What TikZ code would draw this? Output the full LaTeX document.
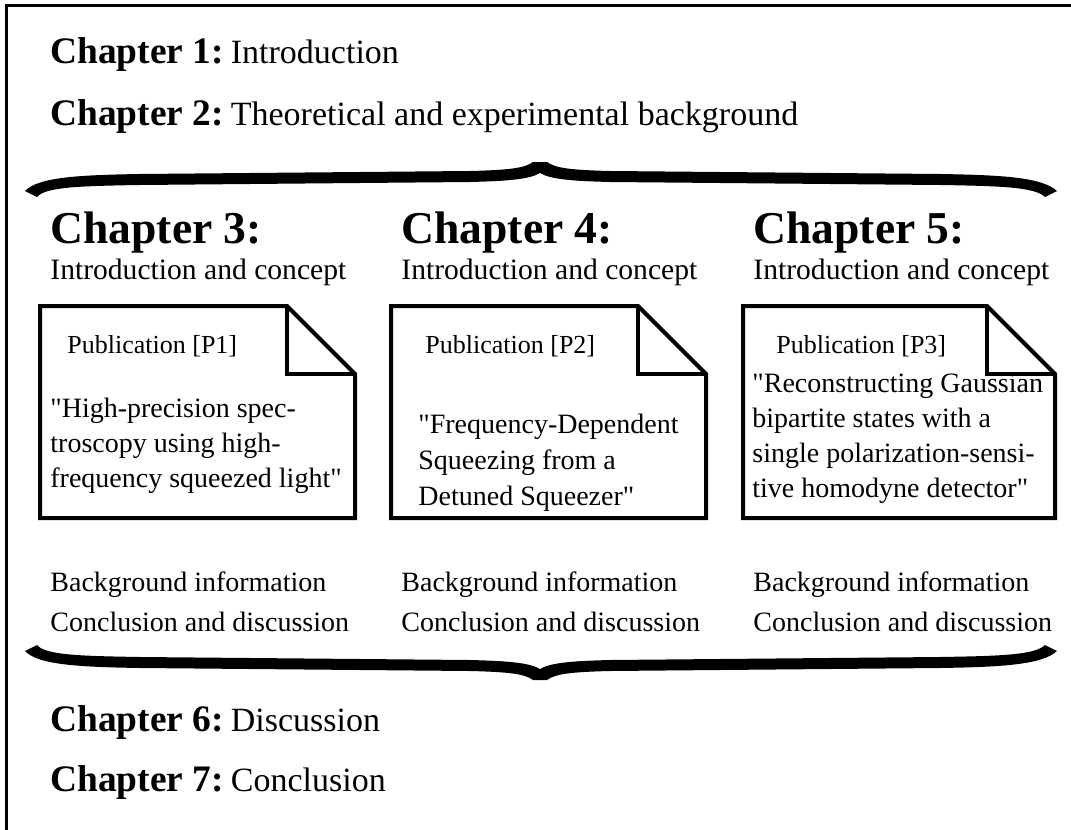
\documentclass[tikz,border=0pt]{standalone}
\usepackage{fontspec}
\setmainfont{Liberation Serif}[Ligatures=TeXOff]
\begin{document}
\begin{tikzpicture}[x=0.5pt,y=-0.5pt,
  frameline/.style={line width=1.5pt},
  docline/.style={line width=2pt, line join=miter},
  headA/.style={anchor=base west, inner sep=0pt, font=\fontsize{17}{20}\selectfont},
  chap/.style={anchor=base west, inner sep=0pt, font=\fontsize{22.8}{27}\selectfont\bfseries},
  sub/.style={anchor=base west, inner sep=0pt, font=\fontsize{14}{17}\selectfont},
  intro/.style={anchor=base west, inner sep=0pt, font=\fontsize{14.8}{17}\selectfont},
  pub/.style={anchor=base west, inner sep=0pt, font=\fontsize{13}{15}\selectfont},
  qt/.style={anchor=base west, inner sep=0pt, font=\fontsize{14}{17}\selectfont}]
\useasboundingbox (0,0) rectangle (1071,830);
% frame
\draw[frameline] (1071,5) -- (6,5) -- (6,830);
% top-level chapters
\newcommand\chb[1]{{\fontsize{18.7}{20}\selectfont\bfseries #1}\hspace{3.5pt}}
\node[headA] (c1) at (50,63) {\chb{Chapter 1:}Introduction};
\node[headA] (c2) at (50,125) {\chb{Chapter 2:}Theoretical and experimental background};
\node[headA] (c6) at (50,731) {\chb{Chapter 6:}Discussion};
\node[headA] (c7) at (50,791) {\chb{Chapter 7:}Conclusion};
% braces
\def\bracepath{(25,191) .. controls (38,177) and (80,175) .. (140,174) -- (470,171) .. controls (510,170) and (525,168) .. (533,162) -- (547,162) .. controls (555,168) and (570,170) .. (610,171) -- (940,174) .. controls (1000,175) and (1042,177) .. (1057,191) -- (1045,197) .. controls (1035,187) and (1000,186) .. (940,185) -- (610,182) .. controls (570,181) and (550,179) .. (540,173) .. controls (530,179) and (510,181) .. (470,182) -- (140,185) .. controls (80,186) and (45,187) .. (37,197) -- cycle}
\fill \bracepath;
\begin{scope}[shift={(0,842)}, yscale=-1]
\fill \bracepath;
\end{scope}
% column chapters
\node[chap] (h3) at (50,243) {Chapter 3:};
\node[chap] (h4) at (401,243) {Chapter 4:};
\node[chap] (h5) at (753,243) {Chapter 5:};
\node[intro] (i3) at (50,279) {Introduction and concept};
\node[intro] (i4) at (401,279) {Introduction and concept};
\node[intro] (i5) at (753,279) {Introduction and concept};
\node[sub] (b3) at (50,591) {Background information};
\node[sub] (b4) at (401,591) {Background information};
\node[sub] (b5) at (753,591) {Background information};
\node[sub] (d3) at (50,631) {Conclusion and discussion};
\node[sub] (d4) at (401,631) {Conclusion and discussion};
\node[sub] (d5) at (753,631) {Conclusion and discussion};
% documents
\foreach \L/\R in {40/355, 391/706, 743/1055}{
  \draw[docline] (\L,306) -- ({\R-68},306) -- (\R,374) -- (\R,518) -- (\L,518) -- cycle;
  \draw[docline] ({\R-68},306) -- ({\R-68},374) -- (\R,374);
}
\node[pub] (p1) at (67,353) {Publication [P1]};
\node[pub] (p2) at (425,353) {Publication [P2]};
\node[pub] (p3) at (776,353) {Publication [P3]};
\node[qt] (q1a) at (50,417) {"High-precision spec-};
\node[qt] (q1b) at (50,452) {troscopy using high-};
\node[qt] (q1c) at (50,487) {frequency squeezed light"};
\node[qt] (q2a) at (418,433) {"Frequency-Dependent};
\node[qt] (q2b) at (418,469) {Squeezing from a};
\node[qt] (q2c) at (418,505) {Detuned Squeezer"};
\node[qt] (q3a) at (752,392) {"Reconstructing Gaussian};
\node[qt] (q3b) at (752,427) {bipartite states with a};
\node[qt] (q3c) at (752,462) {single polarization-sensi-};
\node[qt] (q3d) at (752,497) {tive homodyne detector"};
\end{tikzpicture}
\end{document}
